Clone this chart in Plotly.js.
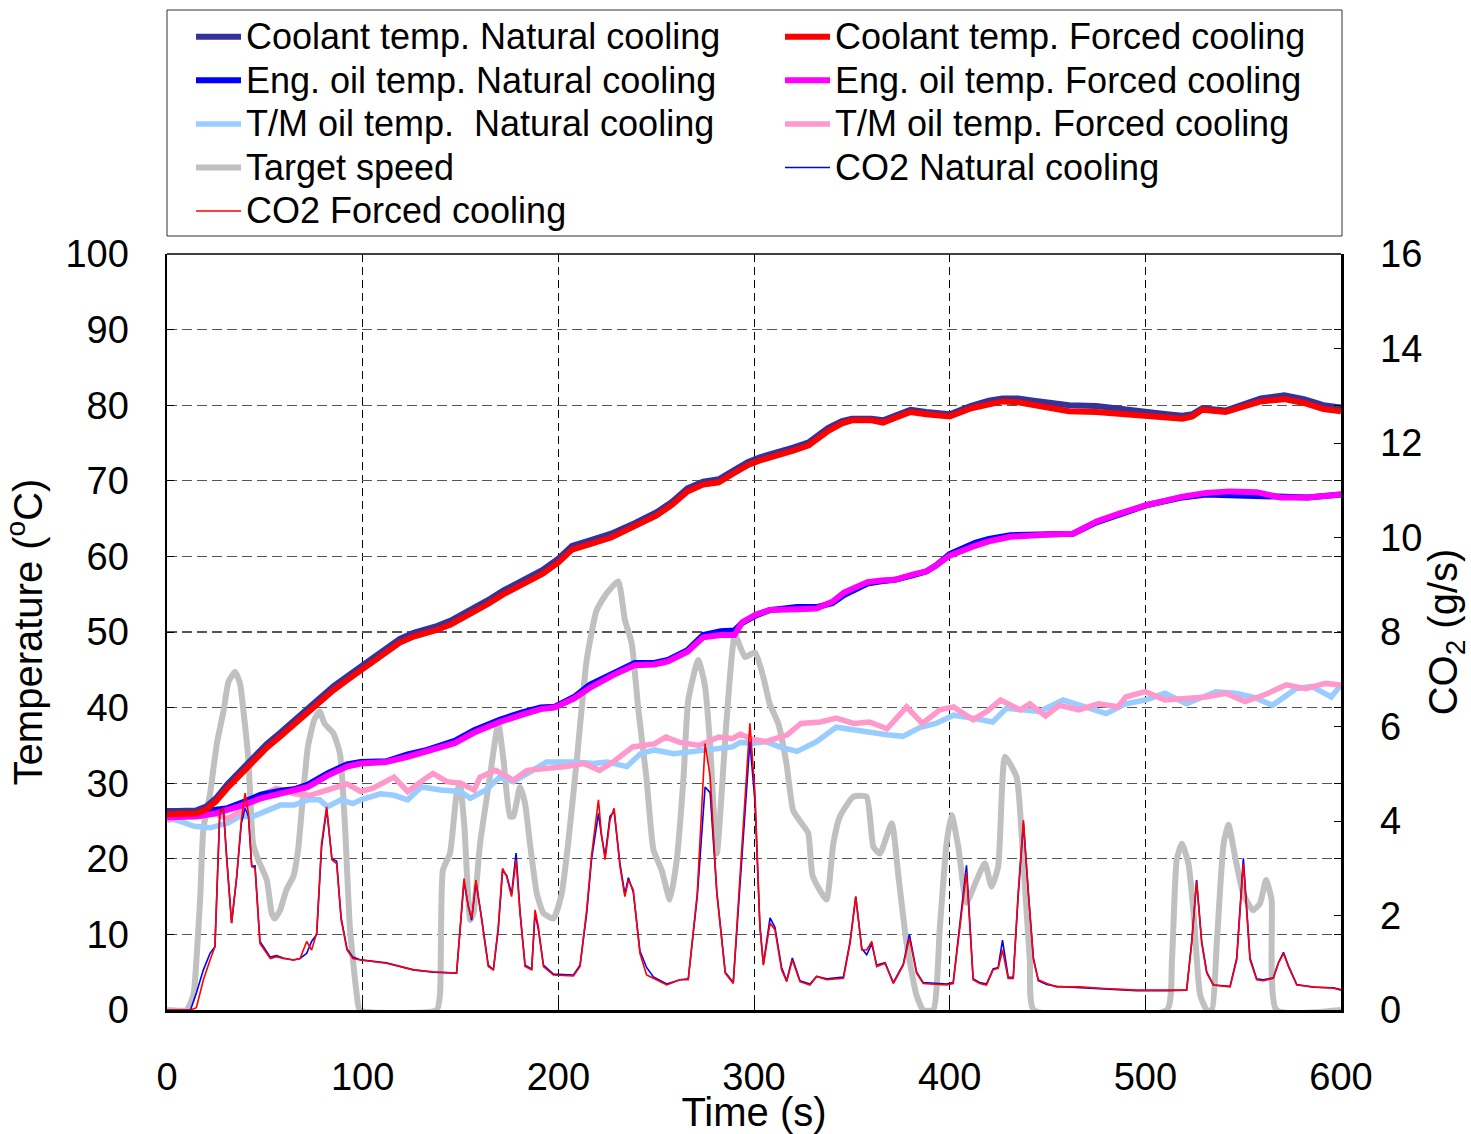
<!DOCTYPE html>
<html>
<head>
<meta charset="utf-8">
<script src="https://cdn.plot.ly/plotly-3.0.1.min.js"></script>
<style>
  html, body { margin: 0; padding: 0; background: #ffffff; }
  #chart { width: 1471px; height: 1134px; }
</style>
</head>
<body>
<div id="chart"></div>
<script>
// ---- Coolant temperature (°C) ----
const coolantTime = [0, 10, 15, 20, 25, 31, 41, 51, 58, 65, 75, 85, 94, 100, 110, 119, 126, 137, 145, 153,
  164, 172, 184, 192, 200, 207, 217, 227, 239, 250, 258, 266, 274, 282, 289, 297, 303, 312, 320, 328,
  338, 345, 350, 360, 366, 373, 380, 388, 400, 411, 420, 427, 435, 443, 451, 461, 475, 491, 501, 511,
  519, 524, 529, 541, 551, 559, 571, 581, 591, 600];
const coolantNatural = [26.3, 26.3, 26.4, 26.9, 28.0, 29.9, 32.5, 35.2, 36.7, 38.3, 40.6, 42.8, 44.5, 45.6, 47.5, 49.1, 49.9, 50.7, 51.5, 52.6,
  54.2, 55.5, 57.2, 58.2, 59.7, 61.4, 62.2, 63.0, 64.4, 65.8, 67.2, 69.0, 69.9, 70.2, 71.3, 72.5, 73.1, 73.7, 74.4, 75.1,
  77.0, 77.9, 78.2, 78.2, 78.0, 78.7, 79.4, 79.1, 78.8, 79.9, 80.6, 80.9, 80.9, 80.6, 80.3, 80.0, 79.9, 79.5, 79.1, 78.8,
  78.6, 78.8, 79.6, 79.3, 80.2, 80.9, 81.3, 80.8, 80.0, 79.7];
const coolantForced = [25.9, 25.9, 26.0, 26.5, 27.6, 29.4, 32.0, 34.7, 36.2, 37.8, 40.1, 42.3, 44.0, 45.1, 47.0, 48.6, 49.4, 50.2, 51.0, 52.1,
  53.7, 55.0, 56.7, 57.7, 59.2, 60.9, 61.7, 62.5, 64.0, 65.4, 66.8, 68.6, 69.5, 69.8, 70.9, 72.1, 72.7, 73.3, 74.0, 74.7,
  76.6, 77.6, 78.0, 78.0, 77.7, 78.4, 79.1, 78.8, 78.5, 79.6, 80.2, 80.5, 80.4, 80.0, 79.6, 79.2, 79.1, 78.8, 78.5, 78.4,
  78.2, 78.5, 79.4, 79.1, 79.9, 80.5, 80.8, 80.3, 79.5, 79.2];

// ---- Engine oil temperature (°C) ----
const engOilTime = [0, 10, 15, 25, 31, 40, 48, 58, 65, 72, 82, 92, 99, 112, 123, 133, 147, 157, 170, 182,
  191, 198, 208, 216, 228, 239, 249, 256, 266, 274, 283, 290, 294, 301, 308, 322, 332, 340, 346, 351,
  358, 365, 372, 381, 388, 393, 400, 413, 420, 431, 441, 451, 463, 475, 487, 501, 519, 531, 543, 557,
  569, 583, 600];
const engOilNatural = [26.3, 26.3, 26.3, 26.5, 26.7, 27.6, 28.5, 29.0, 29.2, 29.8, 31.3, 32.5, 32.8, 32.9, 33.8, 34.4, 35.6, 37.0, 38.4, 39.4,
  40.0, 40.1, 41.4, 43.0, 44.5, 45.9, 45.9, 46.3, 47.6, 49.6, 50.1, 50.2, 51.2, 52.2, 52.9, 53.3, 53.3, 53.8, 54.9, 55.6,
  56.4, 56.7, 56.9, 57.5, 58.0, 58.8, 60.3, 61.8, 62.3, 62.8, 62.9, 62.9, 63.0, 64.5, 65.6, 66.8, 67.8, 68.2, 68.1, 68.0,
  67.8, 67.8, 68.2];
const engOilForced = [25.5, 25.5, 25.6, 26.0, 26.4, 27.2, 28.0, 28.7, 29.0, 29.5, 31.0, 32.2, 32.6, 32.8, 33.5, 34.2, 35.3, 36.7, 38.1, 39.1,
  39.8, 40.0, 41.2, 42.6, 44.3, 45.6, 45.7, 46.1, 47.4, 49.3, 49.6, 49.6, 51.3, 52.3, 52.9, 53.0, 53.1, 54.0, 55.2, 55.8,
  56.6, 56.8, 56.9, 57.6, 58.0, 58.8, 60.1, 61.4, 62.0, 62.6, 62.8, 62.9, 63.0, 64.6, 65.7, 66.8, 67.9, 68.4, 68.6, 68.5,
  67.8, 67.8, 68.2];

// ---- Transmission oil temperature (°C) ----
const tmNaturalTime = [0, 5, 14, 22, 31, 37, 44, 51, 58, 65, 72, 78, 82, 89, 95, 99, 109, 116, 123, 130,
  140, 150, 155, 163, 170, 177, 184, 194, 208, 218, 225, 235, 242, 249, 259, 269, 279, 289, 293, 300,
  306, 313, 322, 332, 342, 351, 359, 368, 376, 385, 393, 402, 412, 422, 429, 439, 446, 458, 470, 480,
  490, 500, 510, 521, 536, 546, 555, 565, 577, 585, 595, 600];
const tmNatural = [25.4, 25.1, 24.3, 24.1, 24.7, 25.6, 25.6, 26.4, 27.1, 27.1, 27.8, 27.8, 26.9, 27.8, 27.3, 27.8, 28.6, 28.4, 27.8, 29.5,
  29.1, 28.9, 28.0, 29.1, 30.8, 30.2, 31.3, 32.8, 32.8, 32.6, 32.8, 32.2, 33.9, 34.4, 33.9, 34.2, 34.4, 34.8, 35.4, 35.3,
  35.5, 34.8, 34.2, 35.5, 37.4, 37.0, 36.7, 36.4, 36.2, 37.4, 37.9, 39.0, 38.6, 38.1, 39.9, 39.7, 39.5, 41.0, 40.1, 39.2,
  40.5, 41.0, 41.9, 40.5, 42.1, 41.9, 41.4, 40.3, 42.5, 42.8, 41.4, 43.0];
const tmForcedTime = [0, 10, 17, 24, 31, 37, 44, 48, 56, 65, 73, 82, 92, 99, 105, 116, 123, 133, 136, 143,
  150, 157, 160, 168, 177, 184, 194, 204, 213, 221, 228, 238, 249, 255, 262, 272, 282, 289, 293, 298,
  306, 317, 324, 334, 342, 351, 359, 368, 378, 386, 395, 402, 412, 419, 426, 436, 441, 449, 456, 466,
  476, 486, 490, 500, 510, 521, 531, 541, 551, 561, 572, 582, 592, 600];
const tmForced = [25.1, 25.8, 25.6, 26.0, 25.3, 26.2, 28.0, 28.4, 29.3, 28.6, 28.4, 29.1, 29.9, 28.9, 29.3, 30.8, 28.9, 30.8, 31.3, 30.2,
  30.0, 29.1, 30.8, 31.7, 30.4, 31.7, 31.9, 32.2, 32.6, 31.7, 32.8, 34.8, 35.2, 36.1, 35.4, 35.0, 36.1, 35.9, 36.5, 35.9,
  35.5, 36.4, 37.9, 38.1, 38.6, 37.9, 38.1, 37.2, 40.1, 37.9, 39.7, 40.1, 38.4, 39.5, 41.0, 39.7, 40.5, 38.9, 40.3, 39.7,
  40.5, 40.1, 41.4, 42.1, 41.0, 41.2, 41.4, 41.9, 40.8, 41.7, 43.0, 42.5, 43.2, 43.0];

// ---- Target vehicle speed (plotted on the left scale) ----
const speedTime = [0, 10, 13.5, 15, 17, 18.6, 22, 25.5, 29, 31.4, 34.8, 37.3, 39, 41.6, 44, 46.7, 51, 53.5, 55, 57.8,
  61, 64.6, 67, 69.6, 72, 75.3, 78, 80.5, 85, 88.4, 91, 93.5, 97, 98.6, 137.8, 139.5, 141, 144.6, 148, 149.7,
  152, 155, 156.6, 160, 165, 169.3, 172, 175.3, 177, 180.4, 183, 185.5, 189, 192.4, 197.5, 201.7, 205, 209.4, 214.5, 219.6,
  224.7, 230.6, 234, 237.5, 240.9, 245, 248.6, 252.8, 257, 260.5, 264, 266.4, 271.5, 275, 277.5, 281, 286, 290.3, 295.4, 300.5,
  304.8, 308, 312.4, 316.6, 320, 324.3, 327.7, 330, 337, 340.5, 343.9, 350.7, 357.5, 361, 364.4, 370.4, 373.8, 378, 383, 386.5,
  391.6, 395, 398.4, 401, 404.4, 408.6, 413.8, 418, 421.4, 424.8, 428.3, 434.2, 437.6, 441, 443, 511, 513.6, 516, 518.6, 522,
  524.6, 528, 531.4, 534, 536.5, 540, 542.5, 546, 550, 555, 558.6, 561.7, 564.5, 567, 600];
const targetSpeed = [0, 0, 2, 6.4, 15, 24, 28.6, 35.3, 39.7, 43.4, 44.7, 43.2, 39.7, 33.1, 22.0, 19.8, 17.2, 12.8, 12.1, 13.2,
  15.9, 17.7, 21.2, 28.6, 34.8, 38.4, 39.5, 37.9, 36.6, 33.9, 24.2, 10.8, 2.0, 0, 0, 2, 18.5, 20.7, 28.6, 30,
  24.2, 11.9, 12.8, 22, 30.8, 37.9, 33, 25.6, 25.6, 29.5, 27.3, 22, 15.4, 12.8, 12.1, 15.4, 22, 33, 46.3, 52.9,
  55.1, 56.7, 51.6, 48.5, 39.7, 30.8, 21.2, 18.5, 14.6, 19.8, 30.8, 41, 46.3, 42.8, 35.3, 20.7, 38.4, 49.6, 46.7, 47.3,
  44.0, 40.5, 37.9, 32.6, 26.4, 24.7, 23.4, 17.7, 14.6, 22, 25.6, 28.2, 28.2, 21.6, 20.7, 24.7, 17.7, 8.8, 2, 0,
  0, 11, 22, 25.8, 21.6, 14.2, 17.2, 19.4, 16.3, 19, 33.5, 30.8, 19.8, 6.4, 0, 0, 6.6, 19.8, 22, 19.4,
  13, 2, 0, 0, 8.8, 22, 24.5, 20.1, 15.4, 13.2, 14.1, 17.2, 14.6, 0, 0];

// ---- CO2 mass flow (g/s, right scale) ----
const co2Time = [0, 12, 15, 18.6, 22, 24.5, 27, 28.8, 30.5, 33, 35.6, 38, 39.9, 41.6, 43.3, 45, 47.5, 50, 52.8, 56,
  59.4, 64.6, 68, 71.4, 73.9, 76.5, 79, 81.6, 84.3, 86.7, 89, 92, 95, 99, 112, 126, 136, 148, 149.7, 151.8,
  154, 155.7, 157.9, 160.8, 164.2, 166.8, 169.3, 171.5, 173.6, 176.1, 178.4, 180.4, 183, 186.4, 188.1, 189.8, 192.4, 197.5, 207.7, 211.1,
  214.5, 217, 220.5, 222, 223.9, 226.4, 228.5, 231.5, 234, 235.8, 238.3, 241.7, 245.1, 248.6, 255.4, 262.2, 266.4, 271, 275, 277.6,
  281, 285.3, 289.4, 292.8, 297.9, 300.5, 303, 304.8, 308.2, 310.7, 314.1, 316.7, 319.6, 323.5, 328.6, 332, 337.2, 345.7, 349.1, 352,
  355.1, 357.6, 360.2, 362.7, 367, 371.2, 376.3, 379.4, 383.1, 386.5, 398.4, 401.8, 405.2, 408.6, 412, 415.4, 418.8, 422.2, 424.8, 427,
  429.9, 432.5, 435, 437.7, 440.2, 442.8, 445.3, 449.6, 454.7, 466.6, 476.8, 495.6, 510.9, 521.1, 523.7, 526.2, 528.8, 531.4, 534.8, 543.3,
  546.7, 550.1, 553.5, 556.9, 560.3, 565.4, 568, 570.6, 573.1, 577.4, 585.9, 596.1, 600];
const co2Natural = [0, 0, 0.36, 0.85, 1.2, 1.34, 4.2, 4.27, 3.25, 1.84, 2.8, 3.95, 4.27, 4.1, 3.04, 3.05, 1.45, 1.3, 1.12, 1.15,
  1.1, 1.06, 1.09, 1.2, 1.45, 1.6, 3.45, 4.25, 3.2, 3.15, 1.95, 1.3, 1.12, 1.06, 1.0, 0.85, 0.8, 0.78, 1.7, 2.72,
  2.2, 1.9, 2.7, 1.95, 0.95, 0.85, 1.7, 2.95, 2.85, 2.45, 3.32, 2.1, 0.95, 0.87, 2.05, 1.7, 0.95, 0.76, 0.74, 0.95,
  2.05, 3.2, 4.16, 3.7, 3.25, 4.1, 4.2, 3.1, 2.45, 2.8, 2.5, 1.25, 0.9, 0.7, 0.55, 0.64, 0.66, 2.4, 4.72, 4.6,
  2.5, 0.8, 0.58, 2.7, 5.68, 4.4, 1.8, 0.97, 1.95, 1.75, 0.9, 0.62, 1.1, 0.62, 0.55, 0.71, 0.66, 0.7, 1.45, 2.4,
  1.3, 1.17, 1.4, 0.95, 1.0, 0.58, 0.97, 1.6, 0.8, 0.58, 0.55, 0.58, 1.8, 3.06, 0.66, 0.58, 0.55, 0.87, 0.9, 1.48,
  0.7, 0.69, 2.4, 3.95, 2.5, 1.1, 0.62, 0.54, 0.5, 0.47, 0.45, 0.41, 0.41, 0.42, 1.45, 2.75, 1.45, 0.8, 0.53, 0.5,
  1.1, 3.21, 1.1, 0.66, 0.64, 0.68, 1.0, 1.22, 0.94, 0.54, 0.48, 0.47, 0.43];
const co2Forced = [0, 0, 0.05, 0.64, 1.06, 1.34, 4.23, 4.27, 3.18, 1.84, 2.82, 4.02, 4.59, 4.16, 3.04, 3.0, 1.41, 1.27, 1.09, 1.13,
  1.09, 1.06, 1.09, 1.45, 1.27, 1.63, 3.53, 4.3, 3.18, 3.1, 1.91, 1.27, 1.09, 1.06, 0.99, 0.85, 0.81, 0.78, 1.76, 2.78,
  2.18, 1.94, 2.75, 1.91, 0.92, 0.85, 1.76, 3.0, 2.82, 2.4, 3.18, 2.05, 0.92, 0.85, 2.12, 1.76, 0.92, 0.74, 0.72, 0.92,
  2.12, 3.28, 4.45, 3.74, 3.18, 4.02, 4.27, 3.04, 2.4, 2.75, 2.54, 1.2, 0.74, 0.67, 0.53, 0.64, 0.64, 2.47, 5.64, 4.94,
  2.47, 0.78, 0.56, 2.8, 6.07, 4.59, 1.76, 0.95, 1.84, 1.70, 0.85, 0.6, 1.06, 0.6, 0.53, 0.71, 0.64, 0.67, 1.41, 2.4,
  1.27, 1.27, 1.45, 0.92, 0.99, 0.56, 0.95, 1.52, 0.78, 0.56, 0.53, 0.56, 1.76, 2.92, 0.64, 0.56, 0.53, 0.85, 0.88, 1.27,
  0.67, 0.67, 2.47, 4.02, 2.47, 1.06, 0.64, 0.56, 0.49, 0.49, 0.46, 0.42, 0.42, 0.42, 1.41, 2.72, 1.41, 0.78, 0.53, 0.49,
  1.06, 3.1, 1.06, 0.64, 0.62, 0.67, 0.99, 1.2, 0.92, 0.53, 0.49, 0.46, 0.42];

// ---- Axis ticks ----
const timeTicks = [0, 100, 200, 300, 400, 500, 600];
const tempTicks = [0, 10, 20, 30, 40, 50, 60, 70, 80, 90, 100];
const co2Ticks = [0, 2, 4, 6, 8, 10, 12, 14, 16];

// ---- Legend labels ----
const labels = {
  coolantN: 'Coolant temp. Natural cooling',
  coolantF: 'Coolant temp. Forced cooling',
  engN: 'Eng. oil temp. Natural cooling',
  engF: 'Eng. oil temp. Forced cooling',
  tmN: 'T/M oil temp.\u00a0 Natural cooling',
  tmF: 'T/M oil temp. Forced cooling',
  speed: 'Target speed',
  co2N: 'CO2 Natural cooling',
  co2F: 'CO2 Forced cooling'
};

const FONT = 'Liberation Sans, Arial, Helvetica, sans-serif';
// legend rows keep a tight pitch while the label text stays large
const big = s => '<span style="font-size:36px">' + s + '</span>';

function line(x, y, name, color, width, rank, yaxis, shape) {
  const ln = { color: color, width: width };
  if (shape) { ln.shape = shape; ln.smoothing = 0.5; }
  return {
    type: 'scatter', mode: 'lines', x: x, y: y,
    name: big(name), legendrank: rank,
    yaxis: yaxis || 'y',
    line: ln,
    hoverinfo: 'skip'
  };
}

// speed underneath, temperatures next, CO2 (second axis) on top
const traces = [
  line(speedTime, targetSpeed, labels.speed, '#c0c0c0', 6, 7, 'y', 'spline'),
  line(tmNaturalTime, tmNatural, labels.tmN, '#99ccff', 5.5, 5),
  line(tmForcedTime, tmForced, labels.tmF, '#ff99cc', 5.5, 6),
  line(engOilTime, engOilNatural, labels.engN, '#0000ff', 6, 3),
  line(engOilTime, engOilForced, labels.engF, '#ff00ff', 6, 4),
  line(coolantTime, coolantNatural, labels.coolantN, '#333399', 6, 1),
  line(coolantTime, coolantForced, labels.coolantF, '#ff0000', 6, 2),
  line(co2Time, co2Natural, labels.co2N, '#0000ff', 1.6, 8, 'y2'),
  line(co2Time, co2Forced, labels.co2F, '#ff0000', 1.6, 9, 'y2')
];

const PLOT_L = 167, PLOT_R = 1341, PLOT_T = 254, PLOT_B = 1010;
const plotH = PLOT_B - PLOT_T, plotW = PLOT_R - PLOT_L;
const py = px => (PLOT_B - px) / plotH;   // page pixel row -> paper y
const pxX = px => (px - PLOT_L) / plotW;  // page pixel column -> paper x

const layout = {
  width: 1471,
  height: 1134,
  margin: { l: PLOT_L, r: 1471 - PLOT_R, t: PLOT_T, b: 1134 - PLOT_B, pad: 0, autoexpand: false },
  paper_bgcolor: '#ffffff',
  plot_bgcolor: '#ffffff',
  font: { family: FONT, color: '#000000', size: 38 },
  hovermode: false,
  showlegend: true,
  legend: {
    orientation: 'h',
    x: pxX(191), xanchor: 'left',
    y: py(10), yanchor: 'top',
    borderwidth: 0,
    bgcolor: 'rgba(0,0,0,0)',
    font: { family: FONT, size: 31.2, color: '#000000' },
    itemwidth: 45,
    entrywidth: 529,
    entrywidthmode: 'pixels',
    traceorder: 'normal'
  },
  xaxis: {
    range: [0, 600],
    tickmode: 'array', tickvals: timeTicks, ticktext: timeTicks.map(String),
    showgrid: true, gridcolor: '#000000', gridwidth: 1, griddash: '8px,5px',
    zeroline: false,
    showline: true, linecolor: '#000000', linewidth: 2.5,
    ticks: 'inside', ticklen: 7, tickwidth: 1, tickcolor: '#000000',
    tickfont: { family: FONT, size: 38 },
    ticklabelstandoff: 32,
    title: { text: 'Time (s)', font: { family: FONT, size: 40 }, standoff: 0 },
    fixedrange: true
  },
  yaxis: {
    range: [0, 100],
    tickmode: 'array', tickvals: tempTicks, ticktext: tempTicks.map(String),
    showgrid: true, gridcolor: '#555555', gridwidth: 1.3, griddash: '10px,5px',
    zeroline: false,
    showline: true, linecolor: '#000000', linewidth: 2.5,
    mirror: 'ticks',
    ticks: 'inside', ticklen: 7, tickwidth: 1, tickcolor: '#000000',
    tickfont: { family: FONT, size: 38 },
    ticklabelstandoff: 28,
    title: { text: 'Temperature (<sup>o</sup>C)', font: { family: FONT, size: 40 }, standoff: 16 },
    fixedrange: true
  },
  yaxis2: {
    overlaying: 'y', side: 'right',
    range: [0, 16],
    tickmode: 'array', tickvals: co2Ticks, ticktext: co2Ticks.map(String),
    showgrid: false, zeroline: false,
    showline: true, linecolor: '#000000', linewidth: 1.5,
    ticks: 'inside', ticklen: 7, tickwidth: 1, tickcolor: '#000000',
    tickfont: { family: FONT, size: 38 },
    ticklabelstandoff: 30,
    title: { text: 'CO<sub>2</sub> (g/s)', font: { family: FONT, size: 40 }, standoff: 10 },
    fixedrange: true
  },
  shapes: [
    // legend frame
    { type: 'rect', xref: 'paper', yref: 'paper', x0: 0, x1: pxX(1342), y0: py(236), y1: py(10),
      line: { color: '#333333', width: 1 }, fillcolor: 'rgba(0,0,0,0)', layer: 'below' },
    // top border of the plotting area
    { type: 'line', xref: 'paper', yref: 'paper', x0: 0, x1: 1, y0: 1, y1: 1,
      line: { color: '#000000', width: 1.5 } }
  ]
};

Plotly.newPlot('chart', traces, layout, { staticPlot: true, displayModeBar: false });
</script>
</body>
</html>
